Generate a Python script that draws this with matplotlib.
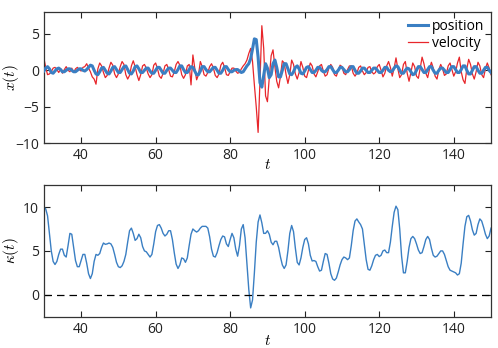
import numpy as np
import matplotlib
matplotlib.use("Agg")
import matplotlib.pyplot as plt

plt.rcParams['font.family'] = ['Open Sans', 'DejaVu Sans']
plt.rcParams['mathtext.fontset'] = 'cm'

# samples every 0.5 time units, t = 30 ... 150 (one row = 3 time units)
pos_x = [
    -0.1, 0.3, 0.5, 0.2, -0.3, -0.4,    # 30
    -0.1, 0.2, 0.3, 0.1, -0.2, -0.2,    # 33
    0.0, 0.2, 0.2, 0.0, -0.2, -0.2,     # 36
    0.0, 0.2, 0.2, 0.0, -0.1, 0.1,      # 39
    0.4, 0.7, 0.6, 0.0, -0.5, -0.6,     # 42
    -0.2, 0.3, 0.4, 0.0, -0.4, -0.5,    # 45
    -0.1, 0.4, 0.5, 0.1, -0.3, -0.3,    # 48
    0.1, 0.5, 0.6, 0.1, -0.4, -0.5,     # 51
    -0.1, 0.5, 0.6, 0.2, -0.3, -0.3,    # 54
    0.0, 0.3, 0.3, -0.1, -0.4, -0.4,    # 57
    0.0, 0.4, 0.4, 0.0, -0.4, -0.4,     # 60
    0.0, 0.3, 0.3, 0.0, -0.3, -0.3,     # 63
    0.1, 0.6, 0.6, 0.1, -0.3, -0.3,     # 66
    0.1, 0.5, 0.4, -0.1, -0.6, -0.6,    # 69
    -0.1, 0.5, 0.5, 0.1, -0.2, -0.2,    # 72
    0.1, 0.4, 0.4, 0.0, -0.4, -0.4,     # 75
    0.0, 0.5, 0.5, 0.1, -0.2, -0.2,     # 78
    0.0, 0.1, 0.1, -0.1, -0.3, -0.2,    # 81
    0.2, 0.6, 0.9, 1.6, 2.9, 4.3,       # 84
    4.2, 1.8, -1.7, -2.3, -0.7, 0.9,    # 87
    0.3, -1.0, -0.6, 0.9, 1.4, 0.4,     # 90
    -0.9, -0.9, 0.0, 0.9, 0.9, 0.2,     # 93
    -0.5, -0.6, -0.2, 0.4, 0.6, 0.2,    # 96
    -0.4, -0.5, -0.1, 0.4, 0.5, 0.1,    # 99
    -0.3, -0.3, 0.0, 0.4, 0.4, 0.0,     # 102
    -0.2, -0.2, 0.1, 0.5, 0.5, 0.1,     # 105
    -0.3, -0.3, 0.0, 0.4, 0.4, 0.1,     # 108
    -0.2, -0.2, 0.1, 0.5, 0.5, 0.0,     # 111
    -0.4, -0.4, -0.1, 0.3, 0.3, 0.0,    # 114
    -0.3, -0.3, 0.0, 0.3, 0.3, 0.0,     # 117
    -0.3, -0.3, 0.0, 0.4, 0.4, 0.0,     # 120
    -0.2, -0.1, 0.3, 0.6, 0.5, 0.0,     # 123
    -0.4, -0.4, 0.0, 0.3, 0.2, -0.2,    # 126
    -0.6, -0.5, 0.0, 0.5, 0.5, 0.1,     # 129
    -0.3, -0.3, 0.1, 0.5, 0.5, 0.0,     # 132
    -0.4, -0.4, 0.0, 0.3, 0.3, 0.0,     # 135
    -0.3, -0.3, 0.1, 0.5, 0.5, 0.1,     # 138
    -0.3, -0.3, 0.1, 0.6, 0.6, 0.0,     # 141
    -0.5, -0.5, 0.0, 0.5, 0.5, 0.0,     # 144
    -0.4, -0.4, 0.0, 0.4, 0.4, 0.0,     # 147
    -0.3]                               # 150

vel_v = [
    1.7, 0.4, -0.6, -0.5, -0.2, 0.3,    # 30
    0.4, 0.1, -0.3, 0.2, -0.4, 0.1,     # 33
    0.5, 0.0, -0.2, 0.3, -0.3, 0.2,     # 36
    0.4, 0.1, -0.1, 0.4, 0.5, 0.9,      # 39
    0.3, -0.2, -0.9, -1.2, -1.9, 0.2,   # 42
    1.0, 0.6, -0.3, -1.0, -0.7, 0.3,    # 45
    1.1, 0.7, -0.5, -1.0, -0.5, 0.5,    # 48
    1.2, 0.8, -0.6, -1.2, -0.7, 0.6,    # 51
    1.3, 0.5, -0.6, -1.4, -0.6, 0.6,    # 54
    0.8, 0.3, -0.5, -1.0, -0.6, 0.7,    # 57
    1.0, 0.2, -0.8, -1.1, -0.4, 0.6,    # 60
    0.8, 0.1, -0.8, -0.9, -0.2, 0.8,    # 63
    1.2, 0.7, -0.6, -1.1, -0.6, 0.6,    # 66
    0.8, -2.0, 2.1, 0.3, -1.3, -0.6,    # 69
    1.2, 0.5, -0.6, -0.8, -0.3, 0.5,    # 72
    0.9, 0.3, -0.7, -1.0, -0.5, 0.7,    # 75
    1.1, 0.4, -0.6, -0.7, -0.2, 0.3,    # 78
    0.3, -0.1, -0.4, -0.3, 0.2, 0.6,    # 81
    0.9, 1.4, 2.3, 3.0, 1.2, -2.0,      # 84
    -5.0, -8.5, -1.5, 6.1, 3.0, -3.5,   # 87
    -4.3, -1.0, 2.0, 2.8, 0.5, -1.5,    # 90
    -2.4, -0.8, 1.3, 1.0, -0.6, -1.8,   # 93
    -0.6, 1.4, 0.8, -0.5, -1.2, -0.3,   # 96
    1.2, 0.4, -0.8, -1.0, 0.0, 1.0,     # 99
    0.6, -0.5, -0.9, -0.2, 0.6, 0.8,    # 102
    -0.1, -0.8, -0.6, 0.3, 0.8, 0.4,    # 105
    -0.6, -0.8, 0.0, 0.7, 0.5, -0.4,    # 108
    -0.6, 0.1, 0.6, 0.6, -0.4, -0.8,    # 111
    -0.4, 0.4, 0.6, -0.1, -0.6, -0.3,   # 114
    0.4, 0.5, -0.2, -0.5, -0.3, 0.5,    # 117
    0.8, 0.0, -0.9, -0.4, 0.6, 1.2,     # 120
    0.4, -0.8, 0.3, 1.7, 0.2, -1.0,     # 123
    -0.6, 0.8, 1.2, -0.4, -1.5, -0.3,   # 126
    1.0, 0.5, -0.8, -1.1, 0.3, 1.8,     # 129
    0.9, -0.4, -1.0, 0.2, 1.1, 0.3,     # 132
    -0.8, -1.2, 0.1, 0.8, 0.2, -0.7,    # 135
    -0.5, 0.6, 1.0, 0.1, -0.8, -0.2,    # 138
    1.0, 1.8, -0.2, -1.3, -1.8, 0.2,    # 141
    1.5, 0.8, -0.5, -1.2, -0.2, 1.1,    # 144
    0.6, -0.6, -1.0, 0.2, 1.0, 0.3,     # 147
    -0.6]                               # 150

kap_v = [
    10.0, 9.8, 9.0, 7.0, 5.0, 3.8,      # 30
    3.45, 3.8, 4.6, 5.2, 5.2, 4.5,      # 33
    4.3, 5.6, 7.0, 6.9, 5.4, 3.9,       # 36
    3.2, 3.2, 3.9, 4.6, 4.6, 3.6,       # 39
    2.4, 1.85, 2.4, 3.8, 4.6, 4.5,      # 42
    4.7, 5.4, 5.9, 5.75, 5.8, 5.9,      # 45
    5.8, 5.4, 4.6, 3.7, 3.2, 3.1,       # 48
    3.3, 3.8, 4.6, 6.0, 7.3, 7.6,       # 51
    7.0, 6.2, 6.4, 6.9, 6.5, 5.5,       # 54
    5.0, 4.9, 4.6, 4.3, 4.6, 5.8,       # 57
    7.2, 7.9, 8.0, 7.6, 7.0, 6.7,       # 60
    6.9, 7.3, 7.3, 6.3, 4.8, 3.5,       # 63
    3.0, 3.4, 4.2, 4.1, 3.7, 4.2,       # 66
    5.6, 6.9, 7.5, 7.3, 7.15, 7.3,      # 69
    7.6, 7.8, 7.8, 7.8, 7.6, 6.6,       # 72
    5.2, 4.4, 4.3, 4.8, 5.6, 6.3,       # 75
    6.7, 6.6, 5.8, 5.5, 6.3, 7.0,       # 78
    6.5, 5.2, 4.4, 5.6, 7.5, 8.0,       # 81
    6.5, 3.5, 0.6, -1.5, -0.6, 2.5,     # 84
    6.0, 8.3, 9.1, 8.2, 7.0, 7.0,       # 87
    7.3, 6.9, 6.0, 5.7, 6.1, 6.1,       # 90
    5.4, 4.3, 3.4, 3.0, 3.4, 5.0,       # 93
    7.0, 7.9, 7.2, 5.3, 3.7, 3.4,       # 96
    4.2, 5.4, 6.3, 6.5, 5.8, 4.5,       # 99
    3.85, 3.9, 3.8, 3.2, 2.7, 2.8,      # 102
    3.8, 4.7, 4.6, 3.6, 2.4, 1.8,       # 105
    1.65, 1.9, 2.6, 3.4, 4.0, 4.3,      # 108
    4.2, 4.0, 4.2, 5.6, 7.3, 8.4,       # 111
    8.65, 8.3, 8.0, 7.5, 5.8, 4.0,      # 114
    2.9, 2.8, 3.3, 4.0, 4.5, 4.6,       # 117
    4.35, 4.5, 5.0, 5.1, 4.8, 4.8,      # 120
    6.0, 7.8, 9.4, 10.1, 9.7, 7.5,      # 123
    4.4, 2.5, 2.5, 3.8, 5.4, 6.4,       # 126
    6.65, 6.4, 5.8, 5.1, 4.7, 4.8,      # 129
    5.5, 6.3, 6.65, 6.3, 5.3, 4.5,      # 132
    4.3, 4.4, 4.7, 5.0, 5.0, 4.6,       # 135
    3.9, 3.2, 2.8, 2.7, 2.6, 2.5,       # 138
    2.25, 2.4, 3.6, 5.8, 7.8, 8.9,      # 141
    9.05, 8.4, 7.4, 6.8, 7.0, 8.0,      # 144
    8.65, 8.4, 7.7, 6.9, 6.4, 6.7,      # 147
    7.6]                                # 150

t = 30 + 0.5 * np.arange(len(kap_v))

blue = '#3a7fc3'
red = '#e8262b'

fig = plt.figure(figsize=(4.98, 3.48), dpi=100)
ax1 = fig.add_axes([0.088, 0.588, 0.898, 0.378])
ax2 = fig.add_axes([0.088, 0.090, 0.898, 0.378])

ax1.plot(t, pos_x, color=blue, lw=2.2, label='position', zorder=3)
ax1.plot(t, vel_v, color=red, lw=0.9, label='velocity', zorder=2)
ax1.set_xlim(30, 150)
ax1.set_ylim(-10, 8)
ax1.set_yticks([-10, -5, 0, 5])
ax1.set_xlabel('$t$', fontsize=11)
ax1.set_ylabel('$x(t)$', fontsize=11)
ax1.xaxis.set_label_coords(0.5, -0.11)
ax1.yaxis.set_label_coords(-0.052, 0.5)
ax1.legend(loc='upper right', frameon=False, fontsize=10, handlelength=1.4,
           handletextpad=0.3, borderaxespad=0.1, labelspacing=0.15)

ax2.plot(t, kap_v, color=blue, lw=1.0)
ax2.axhline(0, color='black', lw=0.9, ls=(0, (6, 4)))
ax2.set_xlim(30, 150)
ax2.set_ylim(-2.5, 12.5)
ax2.set_yticks([0, 5, 10])
ax2.set_xlabel('$t$', fontsize=11)
ax2.set_ylabel(r'$\kappa(t)$', fontsize=11)
ax2.xaxis.set_label_coords(0.5, -0.13)
ax2.yaxis.set_label_coords(-0.052, 0.5)

for ax in (ax1, ax2):
    ax.set_xticks([40, 60, 80, 100, 120, 140])
    ax.tick_params(direction='in', top=True, right=True, length=4, width=0.8,
                   labelsize=10, colors='#222222')
    for s in ax.spines.values():
        s.set_linewidth(0.9)
        s.set_color('#333333')

fig.savefig('out.png', dpi=100)
